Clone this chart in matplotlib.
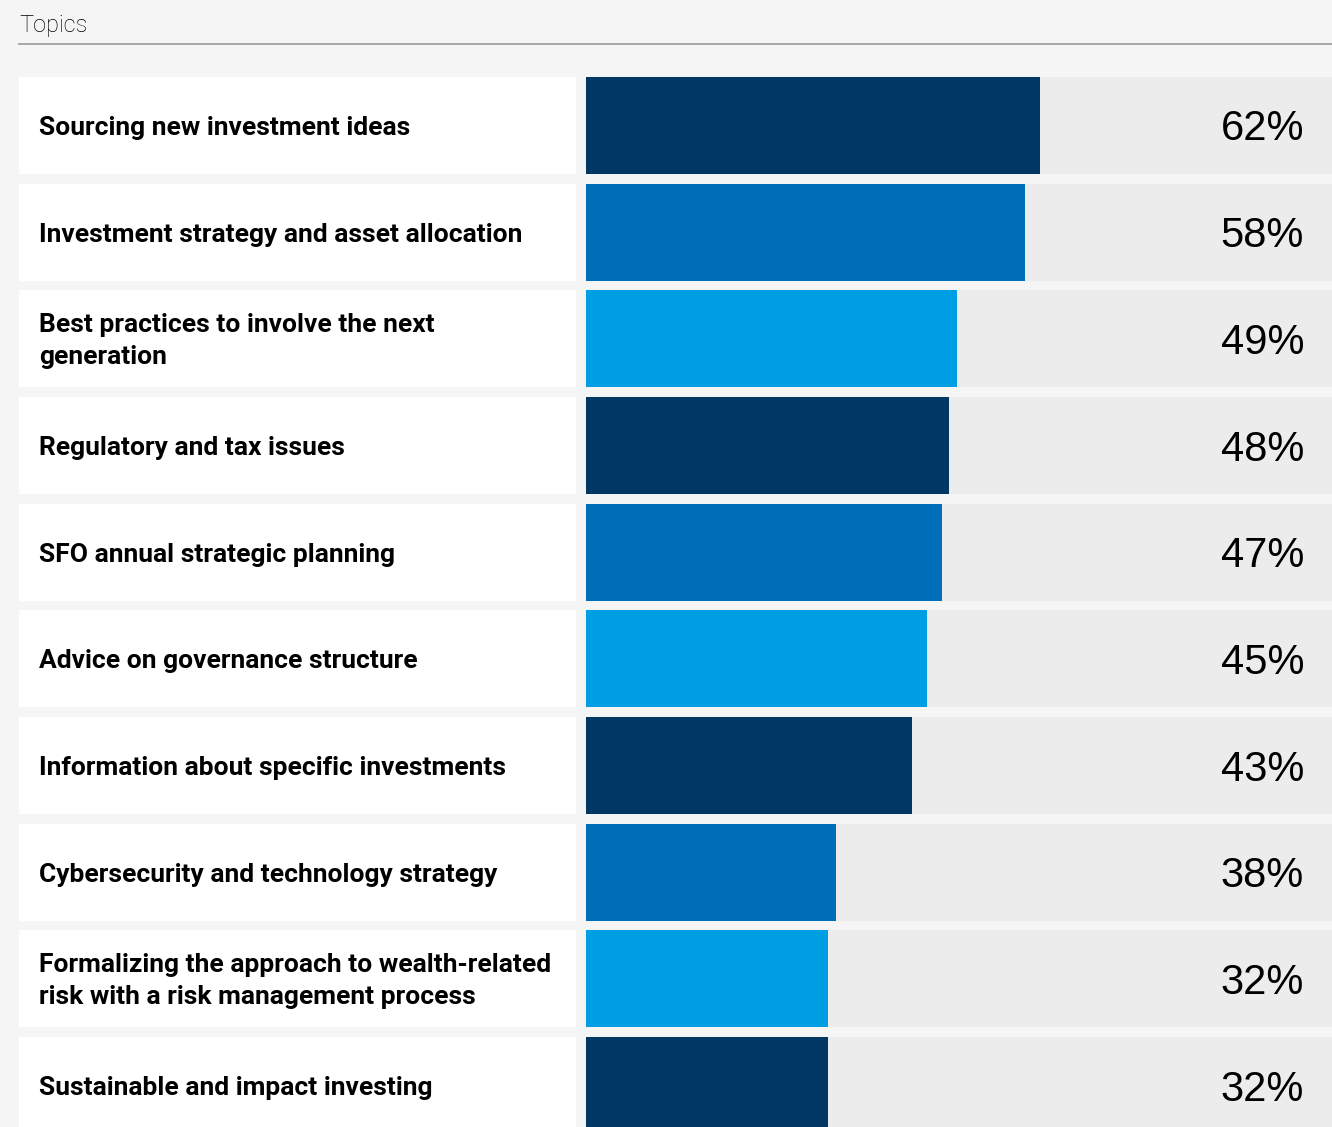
import matplotlib
matplotlib.use("Agg")
import matplotlib.pyplot as plt
from matplotlib import transforms

categories = [
    "Sourcing new investment ideas",
    "Investment strategy and asset allocation",
    "Best practices to involve the next\ngeneration",
    "Regulatory and tax issues",
    "SFO annual strategic planning",
    "Advice on governance structure",
    "Information about specific investments",
    "Cybersecurity and technology strategy",
    "Formalizing the approach to wealth-related\nrisk with a risk management process",
    "Sustainable and impact investing",
]
bar_values = [60, 58, 49, 48, 47, 45, 43, 33, 32, 32]
value_labels = ["62%", "58%", "49%", "48%", "47%", "45%", "43%", "38%", "32%", "32%"]
bar_colors = ["#003764", "#006fb9", "#009fe3"] * 4

W, H = 1332, 1127
fig = plt.figure(figsize=(W / 100, H / 100), dpi=100)
fig.patch.set_facecolor("#f5f5f5")

# geometry (pixels)
pitch = 106.67
row_top = 77.0
ax_top = row_top - (pitch - 97) / 2
y_hi = -0.5 + (H - ax_top) / pitch
bar_h = 97 / pitch

def frac_y(px):
    return 1 - px / H

# header
fig.text(19 / W, frac_y(32), "Topics", fontsize=17, family="Roboto", weight="light",
         color="#000000", va="baseline", ha="left")
fig.add_artist(plt.Line2D([19 / W, 1.0], [frac_y(44), frac_y(44)],
                          color="#9a9a9a", lw=1.2, transform=fig.transFigure))

ax_bottom = 0.0
ax_height = (H - ax_top) / H

# label axes
axl = fig.add_axes([19 / W, ax_bottom, (576 - 19) / W, ax_height])
axl.set_xlim(0, 1)
axl.set_ylim(y_hi, -0.5)
axl.barh(range(len(categories)), [1] * len(categories), height=bar_h, left=0,
         color="white")
cap_px = 19.0
line_px = 32.0
for i, c in enumerate(categories):
    lines = c.split("\n")
    n = len(lines)
    for k, ln in enumerate(lines):
        dy = (cap_px / 2 + (k - (n - 1) / 2) * line_px) / pitch
        axl.text(20 / 557, i + dy, ln, fontsize=19, weight="bold", family="Roboto",
                 va="baseline", ha="left", color="#000000")
axl.axis("off")

# bar axes
scale_px = 757.0  # pixels per 100%
axb = fig.add_axes([586 / W, ax_bottom, (W - 586) / W, ax_height])
axb.set_xlim(0, (W - 586) / scale_px * 100)
axb.set_ylim(y_hi, -0.5)
axb.barh(range(len(categories)), [200] * len(categories), height=bar_h,
         color="#ececec")
axb.barh(range(len(categories)), bar_values, height=bar_h, color=bar_colors)
for i, lab in enumerate(value_labels):
    axb.text((1304 - 586) / (W - 586), i + 15 / pitch, lab,
             transform=axb.get_yaxis_transform(),
             fontsize=30, family="Liberation Sans", va="baseline", ha="right",
             color="#000000")
axb.axis("off")

fig.savefig("out.png", dpi=100, facecolor=fig.get_facecolor())
